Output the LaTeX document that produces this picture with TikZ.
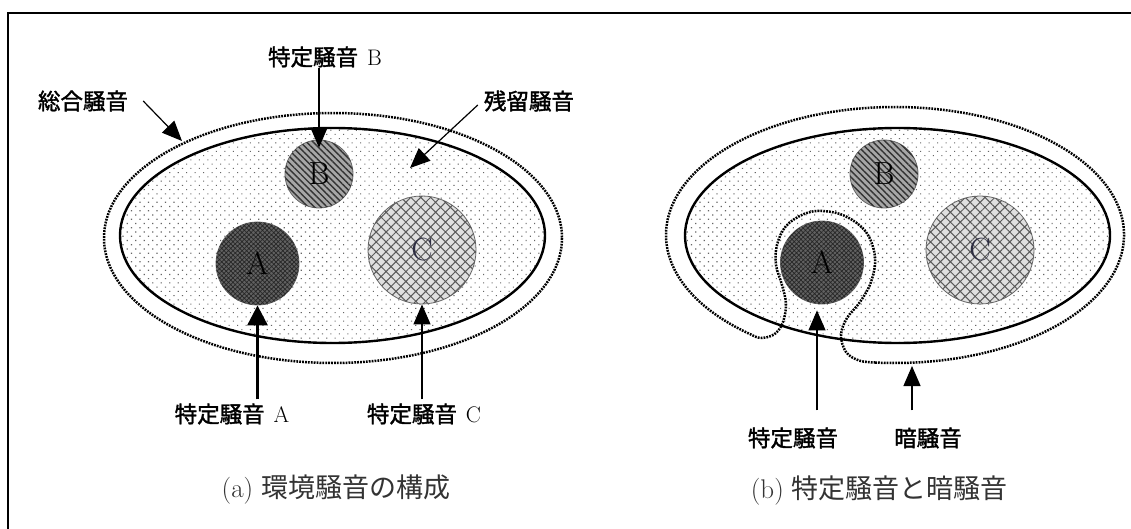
\documentclass[tikz,border=0pt]{standalone}
\usepackage{fontspec}
\newfontfamily\cjk{Noto Sans CJK JP}
\newfontfamily\cjkm[FakeBold=1.6]{Noto Sans CJK JP}
\usetikzlibrary{arrows.meta,patterns,patterns.meta}
\newcommand{\jb}[1]{{\cjkm #1}}
\definecolor{ctext}{RGB}{45,45,65}
\begin{document}
\begin{tikzpicture}[x=1pt,y=-1pt,
 lbl/.style={inner sep=0pt, font=\fontsize{22.5}{26}\selectfont},
 captext/.style={inner sep=0pt, font=\fontsize{27}{30}\selectfont, text=black!80},
 arr/.style={line width=1.2pt, -{Triangle[length=20pt,width=17pt]}},
 thickarr/.style={line width=3pt, -{Triangle[length=20pt,width=20pt]}},
 dotline/.style={line width=2.5pt, dash pattern=on 1.8pt off 1.1pt},
 zone/.style={line width=2.4pt, pattern={Dots[distance=6pt, radius=0.8pt, angle=45]}, pattern color=black!60},
 disc/.style={circle, inner sep=0pt, draw=black!60, line width=0.8pt, font=\fontsize{32}{32}\selectfont},
 discA/.style={disc, minimum size=83pt, fill=black!62, postaction={pattern={Hatch[distance=3.2pt, angle=45, line width=0.7pt]}, pattern color=black!85}, text=black},
 discB/.style={disc, minimum size=68pt, fill=black!35, postaction={pattern={Lines[distance=4.5pt, angle=-45, line width=1.4pt]}, pattern color=black!80}, text=black},
 discC/.style={disc, minimum size=108pt, fill=black!12, postaction={pattern={Hatch[distance=7pt, angle=45, line width=1pt]}, pattern color=black!65}, text=ctext},
]
\useasboundingbox (0,0) rectangle (1131,529);
\clip (0,0) rectangle (1131,529);
\fill[white] (0,0) rectangle (1131,529);
% frame
\draw[line width=2pt] (7.5,13.5) rectangle (1150,550);

% ---------- (a) ----------
\draw[dotline] (333,238) ellipse [x radius=229, y radius=125];
\draw[zone] (332.5,235.5) ellipse [x radius=212.5, y radius=107.5];
\node[discB] (cB) at (319,174) {B};
\node[discA] (cA) at (257.5,263.5) {A};
\node[discC] (cC) at (422,250) {C};

\coordinate (totPt) at (182,141);
\coordinate (resPt) at (410,168);
\node[lbl] (lTotal) at (83,101) {\jb{総合騒音}};
\node[lbl] (lB) at (325,57) {\jb{特定騒音}\hspace{9pt}B};
\node[lbl] (lRes) at (529,101) {\jb{残留騒音}};
\node[lbl] (lA) at (232,414) {\jb{特定騒音}\hspace{9pt}A};
\node[lbl] (lC) at (424,414) {\jb{特定騒音}\hspace{9pt}C};
\node[captext] (capA) at (336,490) {(a)\hspace{8pt}{\cjk 環境騒音の構成}};

\draw[arr] ([xshift=15pt]lTotal.east) -- (totPt);
\draw[arr] ([xshift=-6pt,yshift=-4pt]lRes.west) -- (resPt);
\draw[arr, shorten >=-8pt] (lB.south -| cB.north) -- (cB.north);
\draw[thickarr, shorten <=4pt] (lA.north -| cA.south) -- (cA.south);
\draw[arr, shorten <=4pt] (lC.north -| cC.south) -- (cC.south);

% ---------- (b) ----------
\draw[zone] (897.5,235.5) ellipse [x radius=212.5, y radius=107.5];
\node[discB] (cB2) at (884,174) {B};
\node[discA] (cA2) at (822,262.5) {A};
\node[discC] (cC2) at (980,250) {C};
\draw[dotline] (895,235) ++(95:229 and 128)
  arc[start angle=95, end angle=-231, x radius=229, y radius=128]
  -- plot[smooth, tension=0.6] coordinates {(750.9,334.5) (758,337.5) (766,337.5) (776,333) (783,322) (786,304) (782,285) (776,265) (777,245) (786,226) (804,214) (822,211) (845,216) (866,232) (875,257) (871,282) (860,302) (847,318) (841,335) (846,352) (859,360.5) (875,362.5)}
  -- cycle;

\coordinate (dkPt) at (912,366);
\node[lbl] (lS) at (793,438) {\jb{特定騒音}};
\node[lbl] (lD) at (928,438) {\jb{暗騒音}};
\node[captext, anchor=east] (capB) at (1008,491) {(b)\hspace{8pt}{\cjk 特定騒音と暗騒音}};

\draw[arr, shorten <=17pt, shorten >=6pt] ([xshift=-5pt]cA2.south |- lS.north) -- ([xshift=-5pt]cA2.south);
\draw[arr, shorten <=17pt] (lD.north -| dkPt) -- (dkPt);
\end{tikzpicture}
\end{document}
